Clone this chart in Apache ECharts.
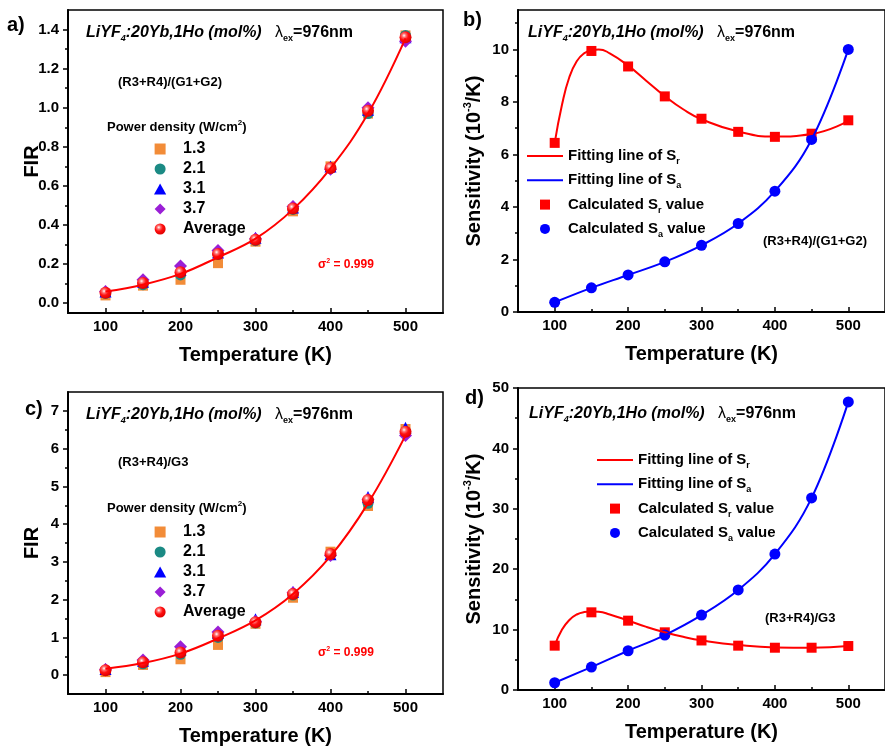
<!DOCTYPE html>
<html>
<head>
<meta charset="utf-8">
<script src="https://cdn.jsdelivr.net/npm/echarts@6/dist/echarts.min.js"></script>
<style>
html, body { margin: 0; padding: 0; background: #fff; }
#plot { width: 885px; height: 751px; }
</style>
</head>
<body>
<div id="plot"></div>
<script>
const FONT = '"Liberation Sans", Arial, sans-serif';

// temperatures (K)
const temps = [100, 150, 200, 250, 300, 350, 400, 450, 500];
const fitTemps = [100, 110, 120, 130, 140, 150, 160, 175, 200, 225, 250, 275, 300, 350, 400, 450, 500];

// a) FIR (R3+R4)/(G1+G2)
const firA_13 = [0.04, 0.09, 0.12, 0.205, 0.315, 0.47, 0.70, 0.97, 1.37];
const firA_21 = [0.05, 0.095, 0.145, 0.25, 0.32, 0.48, 0.69, 0.97, 1.37];
const firA_31 = [0.06, 0.11, 0.17, 0.26, 0.335, 0.49, 0.70, 0.99, 1.36];
const firA_37 = [0.06, 0.12, 0.19, 0.27, 0.33, 0.495, 0.685, 1.00, 1.34];
const firA_avg = [0.053, 0.104, 0.158, 0.252, 0.325, 0.485, 0.692, 0.985, 1.36];
const fitA = [0.06, 0.095, 0.15, 0.235, 0.33, 0.48, 0.69, 0.97, 1.355];

// c) FIR (R3+R4)/G3
const firC_13 = [0.08, 0.27, 0.42, 0.80, 1.36, 2.05, 3.27, 4.48, 6.52];
const firC_21 = [0.12, 0.30, 0.55, 1.00, 1.38, 2.12, 3.20, 4.55, 6.45];
const firC_31 = [0.16, 0.38, 0.68, 1.12, 1.48, 2.20, 3.20, 4.72, 6.55];
const firC_37 = [0.15, 0.40, 0.75, 1.14, 1.42, 2.18, 3.17, 4.65, 6.35];
const firC_avg = [0.13, 0.34, 0.60, 1.04, 1.40, 2.15, 3.21, 4.64, 6.45];
const fitC = [0.17, 0.32, 0.57, 0.97, 1.45, 2.15, 3.15, 4.55, 6.35];

// b) sensitivity (R3+R4)/(G1+G2)
const srB = [6.44, 9.94, 9.35, 8.21, 7.36, 6.86, 6.67, 6.79, 7.30];
const saB = [0.37, 0.92, 1.41, 1.91, 2.54, 3.37, 4.60, 6.57, 10.0];
const fitSrB = [6.44, 7.9, 8.95, 9.55, 9.85, 9.97, 10.0, 9.85, 9.38, 8.8, 8.22, 7.72, 7.34, 6.87, 6.68, 6.78, 7.28];

// d) sensitivity (R3+R4)/G3
const srD = [7.34, 12.86, 11.48, 9.55, 8.20, 7.34, 7.00, 7.00, 7.28];
const saD = [1.2, 3.8, 6.5, 9.1, 12.4, 16.56, 22.5, 31.8, 47.7];
const fitSrD = [7.34, 10.0, 11.6, 12.5, 12.9, 13.0, 12.95, 12.5, 11.5, 10.45, 9.55, 8.8, 8.22, 7.45, 7.05, 7.0, 7.3];

// tick labels
const xTicks = [100, 200, 300, 400, 500];
const xMinor = [150, 250, 350, 450];
const yTicksA = [0, 0.2, 0.4, 0.6, 0.8, 1.0, 1.2, 1.4];
const yMinorA = [0.1, 0.3, 0.5, 0.7, 0.9, 1.1, 1.3];
const yTicksB = [0, 2, 4, 6, 8, 10];
const yMinorB = [1, 3, 5, 7, 9, 11];
const yTicksC = [0, 1, 2, 3, 4, 5, 6, 7];
const yMinorC = [0.5, 1.5, 2.5, 3.5, 4.5, 5.5, 6.5];
const yTicksD = [0, 10, 20, 30, 40, 50];
const yMinorD = [5, 15, 25, 35, 45];

const powerNames = ['1.3', '2.1', '3.1', '3.7', 'Average'];
const sensNames = ['Fitting line of Sr', 'Fitting line of Sa', 'Calculated Sr value', 'Calculated Sa value'];

const pairs = (xs, ys) => xs.map((x, i) => [x, ys[i]]);

const SQUARE = 'path://M0,0L10,0L10,10L0,10Z';
const TRIANGLE = 'path://M5,0L10,9L0,9Z';
const DIAMOND = 'path://M5,0L10,5L5,10L0,5Z';
const BAR = 'path://M0,0L36,0L36,2L0,2Z';

const ball = {
  type: 'radial', x: 0.38, y: 0.35, r: 0.65,
  colorStops: [
    { offset: 0, color: '#ffffff' },
    { offset: 0.25, color: '#ff7070' },
    { offset: 0.55, color: '#ff1010' },
    { offset: 1, color: '#e00000' }
  ]
};

const markStyles = [
  { symbol: 'rect', icon: SQUARE, size: 10, color: '#f28c38' },
  { symbol: 'circle', icon: 'circle', size: 11, color: '#1b8a84' },
  { symbol: 'triangle', icon: TRIANGLE, size: 12, color: '#0000ff' },
  { symbol: 'diamond', icon: DIAMOND, size: 13, color: '#9a1fd6' },
  { symbol: 'circle', icon: 'circle', size: 12, color: ball }
];

const grids = [
  { left: 68, top: 10, width: 375, height: 303 },
  { left: 518, top: 10, width: 375, height: 302 },
  { left: 68, top: 392, width: 375, height: 302 },
  { left: 518, top: 388, width: 375, height: 302 }
].map(g => Object.assign({ show: true, borderColor: '#000', borderWidth: 1.5, containLabel: false }, g));

const boldText = (size) => ({ fontSize: size, fontWeight: 'bold', fontFamily: FONT, color: '#000' });

function xAxisMain(i) {
  return {
    type: 'value', gridIndex: i, min: 50, max: 550, position: 'bottom',
    axisLine: { show: true, onZero: false, lineStyle: { color: '#000', width: 2 } },
    axisTick: { show: true, inside: true, length: 5, customValues: xTicks, lineStyle: { color: '#000', width: 1.5 } },
    axisLabel: Object.assign({ customValues: xTicks, margin: 6 }, boldText(15)),
    splitLine: { show: false },
    name: 'Temperature (K)', nameLocation: 'middle', nameGap: 32, nameMoveOverlap: false,
    nameTextStyle: boldText(20)
  };
}
function xAxisMinor(i) {
  return {
    type: 'value', gridIndex: i, min: 50, max: 550, position: 'bottom',
    axisLine: { show: false, onZero: false },
    axisTick: { show: true, inside: true, length: 3, customValues: xMinor, lineStyle: { color: '#000', width: 1.5 } },
    axisLabel: { show: false }, splitLine: { show: false }
  };
}
function yAxisMain(i, min, max, ticks, fmt, name, gap) {
  return {
    type: 'value', gridIndex: i, min: min, max: max, position: 'left',
    axisLine: { show: true, onZero: false, lineStyle: { color: '#000', width: 2 } },
    axisTick: { show: true, inside: false, length: 5, customValues: ticks, lineStyle: { color: '#000', width: 1.5 } },
    axisLabel: Object.assign({ customValues: ticks, margin: 9, formatter: fmt }, boldText(15)),
    splitLine: { show: false },
    name: name, nameLocation: 'middle', nameGap: gap, nameMoveOverlap: false,
    nameTextStyle: Object.assign({
      lineHeight: 24,
      rich: { sup: { fontSize: 11, fontWeight: 'bold', fontFamily: FONT, color: '#000', lineHeight: 6, verticalAlign: 'top' } }
    }, boldText(20))
  };
}
function yAxisMinor(i, min, max, ticks) {
  return {
    type: 'value', gridIndex: i, min: min, max: max, position: 'left',
    axisLine: { show: false, onZero: false },
    axisTick: { show: true, inside: false, length: 3, customValues: ticks, lineStyle: { color: '#000', width: 1.5 } },
    axisLabel: { show: false }, splitLine: { show: false }
  };
}

const fix1 = v => v.toFixed(1);
const int0 = v => String(Math.round(v));
const sensName = 'Sensitivity (10{sup|-3}/K)';

const xAxes = [0, 1, 2, 3].map(xAxisMain).concat([0, 1, 2, 3].map(xAxisMinor));
const yAxes = [
  yAxisMain(0, -0.05, 1.5, yTicksA, fix1, 'FIR', 24),
  yAxisMain(1, 0, 11.5, yTicksB, int0, sensName, 32),
  yAxisMain(2, -0.5, 7.5, yTicksC, int0, 'FIR', 24),
  yAxisMain(3, 0, 50, yTicksD, int0, sensName, 32),
  yAxisMinor(0, -0.05, 1.5, yMinorA),
  yAxisMinor(1, 0, 11.5, yMinorB),
  yAxisMinor(2, -0.5, 7.5, yMinorC),
  yAxisMinor(3, 0, 50, yMinorD)
];

function firSeries(idx, fit, sets) {
  const out = [{
    type: 'line', name: 'fit' + idx, xAxisIndex: idx, yAxisIndex: idx,
    data: pairs(temps, fit), smooth: 0.4, symbol: 'none',
    lineStyle: { color: '#ff0000', width: 2 }, itemStyle: { color: '#ff0000' }, silent: true
  }];
  sets.forEach((vals, k) => {
    const m = markStyles[k];
    out.push({
      type: 'scatter', name: powerNames[k], xAxisIndex: idx, yAxisIndex: idx,
      data: pairs(temps, vals), symbol: m.symbol, symbolSize: m.size,
      itemStyle: { color: m.color, opacity: 1 }
    });
  });
  return out;
}

function sensSeries(idx, sr, sa, fitSr) {
  return [
    { type: 'line', name: sensNames[0], xAxisIndex: idx, yAxisIndex: idx, data: pairs(fitTemps, fitSr),
      smooth: true, symbol: 'none', lineStyle: { color: '#ff0000', width: 2 }, itemStyle: { color: '#ff0000' } },
    { type: 'line', name: sensNames[1], xAxisIndex: idx, yAxisIndex: idx, data: pairs(temps, sa),
      smooth: 0.4, symbol: 'none', lineStyle: { color: '#0000ff', width: 2 }, itemStyle: { color: '#0000ff' } },
    { type: 'scatter', name: sensNames[2], xAxisIndex: idx, yAxisIndex: idx, data: pairs(temps, sr),
      symbol: 'rect', symbolSize: 10, itemStyle: { color: '#ff0000', opacity: 1 } },
    { type: 'scatter', name: sensNames[3], xAxisIndex: idx, yAxisIndex: idx, data: pairs(temps, sa),
      symbol: 'circle', symbolSize: 11, itemStyle: { color: '#0000ff', opacity: 1 } }
  ];
}

const series = [].concat(
  firSeries(0, fitA, [firA_13, firA_21, firA_31, firA_37, firA_avg]),
  sensSeries(1, srB, saB, fitSrB),
  firSeries(2, fitC, [firC_13, firC_21, firC_31, firC_37, firC_avg]),
  sensSeries(3, srD, saD, fitSrD)
);

// the legend box starts at the widest icon, which is centred in a 36px slot
function powerLegend(top) {
  return {
    data: powerNames.map((n, k) => ({ name: n, icon: markStyles[k].icon })),
    orient: 'vertical', left: 154, top: top, padding: 0,
    itemWidth: 36, itemHeight: 11, itemGap: 4, selectedMode: false, symbolKeepAspect: true,
    textStyle: Object.assign({ lineHeight: 16 }, boldText(16))
  };
}
function sensLegend(left, top) {
  const icons = [BAR, BAR, SQUARE, 'circle'];
  return {
    data: sensNames.map((n, k) => ({ name: n, icon: icons[k] })),
    orient: 'vertical', left: left, top: top, padding: 0,
    itemWidth: 36, itemHeight: 10, itemGap: 4.3, selectedMode: false, symbolKeepAspect: true,
    formatter: n => n.replace(/S([ra])\b/, 'S{sub|$1}'),
    textStyle: Object.assign({
      lineHeight: 20,
      rich: { sub: { fontSize: 9, fontWeight: 'bold', fontFamily: FONT, color: '#000', lineHeight: 4, verticalAlign: 'bottom' } }
    }, boldText(15))
  };
}

// text annotations
const tok = (size, extra) => Object.assign({ fontSize: size, fontWeight: 'bold', fontFamily: FONT, fill: '#000' }, extra || {});
const hostRich = {
  b: tok(16, { fontStyle: 'italic', lineHeight: 20 }),
  s: tok(9, { fontStyle: 'italic', lineHeight: 2, verticalAlign: 'bottom' }),
  l: tok(16, { fontWeight: 'normal', lineHeight: 20 }),
  e: tok(9, { lineHeight: 2, verticalAlign: 'bottom' }),
  n: tok(16, { lineHeight: 20 })
};
const hostText = '{b|LiYF}{s|4}{b|:20Yb,1Ho (mol%)   }{l|λ}{e|ex}{n|=976nm}';

function txt(x, y, text, font, fill) {
  return { type: 'text', x: x, y: y, style: { text: text, font: font, fill: fill || '#000', verticalAlign: 'middle' } };
}
function richTxt(x, y, text, rich) {
  return { type: 'text', x: x, y: y, style: { text: text, rich: rich, verticalAlign: 'middle' } };
}
const powerRich = { t: tok(13, { lineHeight: 16 }), p: tok(8, { lineHeight: 6, verticalAlign: 'top' }) };
const sigmaRich = { t: tok(12, { fill: '#ff0000', lineHeight: 14 }), p: tok(7, { fill: '#ff0000', lineHeight: 5, verticalAlign: 'top' }) };

const graphic = [
  txt(7, 25, 'a)', 'bold 20px ' + FONT),
  txt(463, 20, 'b)', 'bold 20px ' + FONT),
  txt(25, 409, 'c)', 'bold 20px ' + FONT),
  txt(465, 398, 'd)', 'bold 20px ' + FONT),
  richTxt(86, 33, hostText, hostRich),
  richTxt(528, 33, hostText, hostRich),
  richTxt(86, 415, hostText, hostRich),
  richTxt(529, 414, hostText, hostRich),
  txt(118, 82, '(R3+R4)/(G1+G2)', 'bold 13px ' + FONT),
  txt(763, 241, '(R3+R4)/(G1+G2)', 'bold 13px ' + FONT),
  txt(118, 462, '(R3+R4)/G3', 'bold 13px ' + FONT),
  txt(765, 618, '(R3+R4)/G3', 'bold 13px ' + FONT),
  richTxt(107, 127, '{t|Power density (W/cm}{p|2}{t|)}', powerRich),
  richTxt(107, 508, '{t|Power density (W/cm}{p|2}{t|)}', powerRich),
  richTxt(318, 265, '{t|σ}{p|2}{t| = 0.999}', sigmaRich),
  richTxt(318, 653, '{t|σ}{p|2}{t| = 0.999}', sigmaRich)
];

const chart = echarts.init(document.getElementById('plot'), null, { renderer: 'canvas' });
chart.setOption({
  animation: false,
  backgroundColor: '#fff',
  textStyle: { fontFamily: FONT },
  grid: grids,
  xAxis: xAxes,
  yAxis: yAxes,
  legend: [powerLegend(141), sensLegend(527, 146), powerLegend(524), sensLegend(597, 450)],
  graphic: graphic,
  series: series
});
</script>
</body>
</html>
